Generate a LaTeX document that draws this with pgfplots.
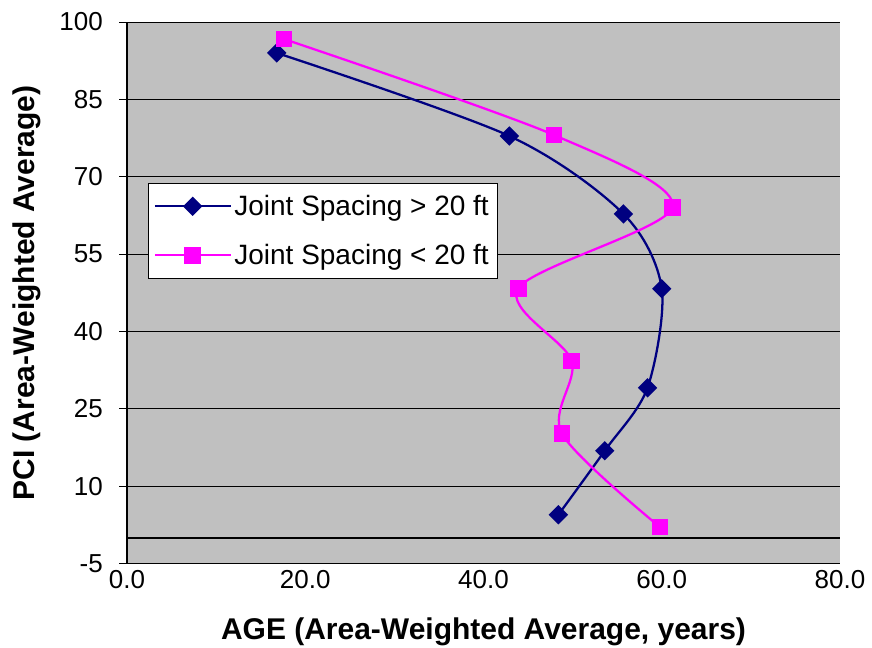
\documentclass[border=0pt]{standalone}
\usepackage{fontspec}
\setmainfont{Liberation Sans}
\usepackage{pgfplots}
\pgfplotsset{compat=1.18}
\definecolor{navyline}{RGB}{0,0,128}
\definecolor{pinkline}{RGB}{255,0,255}
\definecolor{plotgray}{RGB}{192,192,192}
\begin{document}
\begin{tikzpicture}
\begin{axis}[
  name=ax,
  scale only axis,
  width=535pt, height=406.5pt,
  xmin=0, xmax=80, ymin=-5, ymax=100,
  xtick={0,20,40,60,80},
  ytick={-5,10,25,40,55,70,85,100},
  /pgf/number format/assume math mode=true,
  tick label style={font=\fontsize{19.5}{22}\selectfont},
  xticklabel style={inner sep=0pt, yshift=1.5pt, /pgf/number format/.cd, fixed, fixed zerofill, precision=1},
  yticklabel style={inner sep=0pt, xshift=-12pt},
  axis background/.style={fill=plotgray},
  ymajorgrids, grid style={black, line width=0.7pt},
  axis line style={black, line width=0.9pt},
  axis x line*=bottom, axis y line*=left,
  tick align=outside, major tick length=6pt,
  xtick style={draw=none},
  ytick style={black, line width=0.7pt},
  xtick pos=bottom, ytick pos=left,
  xlabel={AGE (Area-Weighted Average, years)},
  ylabel={PCI (Area-Weighted Average)},
  every axis x label/.style={at={(axis description cs:0.5,-0.1255)}, anchor=center, font=\fontsize{22.5}{26}\selectfont\bfseries},
  every axis y label/.style={at={(axis description cs:-0.140,0.5)}, rotate=90, anchor=center, font=\fontsize{22.5}{26}\selectfont\bfseries},
  legend style={at={(0.0295,0.703)}, anchor=north west, draw=black, fill=white,
    font=\fontsize{21}{24}\selectfont, row sep=16pt, inner xsep=4pt, inner ysep=7pt},
  legend cell align=left,
  legend image code/.code={\draw[mark repeat=2,mark phase=2] plot coordinates {(0cm,0cm) (1cm,0cm) (2cm,0cm)};},
]
\addplot[black, line width=0.9pt, forget plot] coordinates {(0,0) (80,0)};
\addplot[navyline, line width=1.7pt, smooth, tension=0.5, mark=square*, mark size=4.3pt, mark options={fill=navyline, solid, rotate=45}]
  coordinates {
  (16.8,94.0) (42.9,77.9) (55.7,62.8) (60.0,48.3) (58.4,29.1) (53.6,16.9) (48.4,4.5)
  };
\addlegendentry{Joint Spacing > 20 ft}
\addplot[pinkline, line width=1.7pt, smooth, tension=0.5, mark=square*, mark size=5.4pt, mark options={fill=pinkline, solid}]
  coordinates {
  (17.6,96.7) (47.9,78.1) (61.2,64.1) (43.9,48.4) (49.9,34.3) (48.8,20.2) (59.8,2.1)
  };
\addlegendentry{Joint Spacing < 20 ft}
\end{axis}
\pgfresetboundingbox
\path ([xshift=-95.3pt,yshift=-63pt]ax.south west) rectangle ([xshift=24pt,yshift=16.5pt]ax.north east);
\end{tikzpicture}
\end{document}
